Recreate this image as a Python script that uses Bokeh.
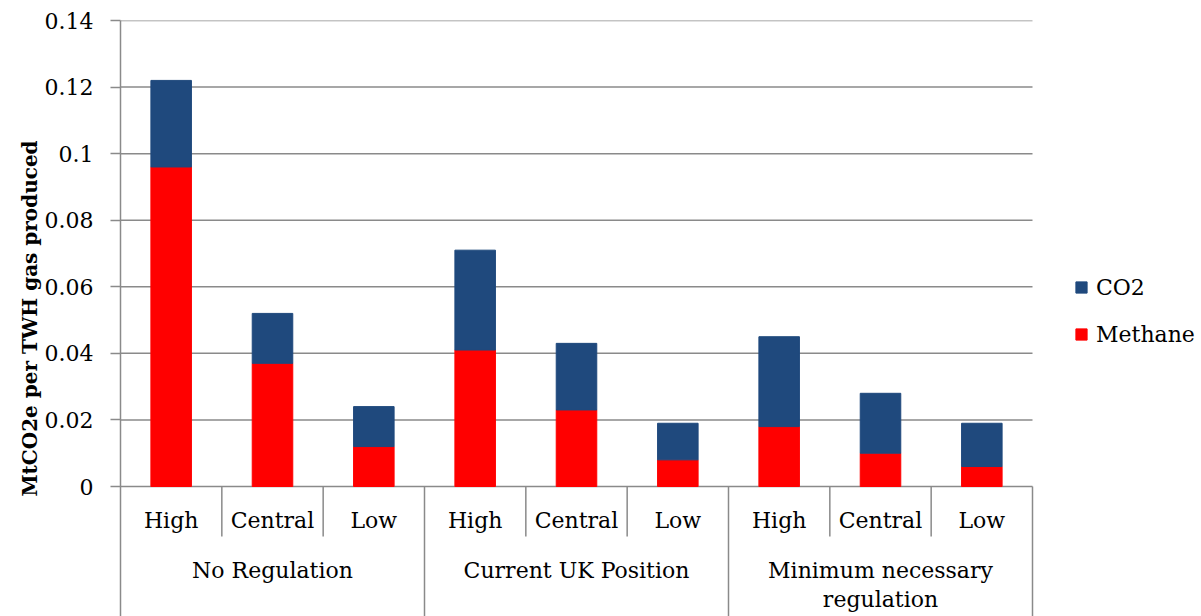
from bokeh.plotting import figure
from bokeh.models import (Range1d, FixedTicker, CustomJSTickFormatter,
                          Legend, LegendItem, ColumnDataSource)
from bokeh.core.properties import value
from bokeh.embed import file_html
from bokeh.resources import INLINE

# ---- data ----
groups = ["No Regulation", "Current UK Position", "Minimum necessary regulation"]
group_labels = ["No Regulation", "Current UK Position", "Minimum necessary\nregulation"]
levels = ["High", "Central", "Low"]
methane = [0.096, 0.037, 0.012, 0.041, 0.023, 0.008, 0.018, 0.010, 0.006]
co2 = [0.026, 0.015, 0.012, 0.030, 0.020, 0.011, 0.027, 0.018, 0.013]
y_ticks = [0, 0.02, 0.04, 0.06, 0.08, 0.1, 0.12, 0.14]

# ---- styling / layout ----
FONT = "DejaVu Serif"
GRAY = "#8a8a8a"
CO2_C = "#1F497D"
METH_C = "#FF0000"
W, H = 1200, 616
LEFT, TOP = 120, 20
PLOT_W = 912          # pixel width of the category area
PLOT_H = 466          # pixel height of 0..max region
FRAME_W = W - LEFT
FRAME_H = H - TOP

n_lv = len(levels)
factors = [(g, l) for g in groups for l in levels]
n = len(factors)
xc = [i + 0.5 for i in range(n)]                      # category centres (one unit each)
gx = [n_lv * j + n_lv / 2 for j in range(len(groups))]  # group centres

UX = PLOT_W / n
X_END = FRAME_W / UX
Y_MAX = y_ticks[-1]
PX = Y_MAX / PLOT_H
Y_MIN = -PX * (FRAME_H - PLOT_H)

p = figure(x_range=Range1d(0, X_END), y_range=Range1d(Y_MIN, Y_MAX),
           width=W, height=H, output_backend="svg", toolbar_location=None,
           x_axis_location=None, min_border_left=LEFT, min_border_right=0,
           min_border_top=TOP, min_border_bottom=0)
p.outline_line_color = None
p.background_fill_color = "white"
p.xgrid.visible = False
p.ygrid.visible = False

# horizontal gridlines across the category area only
p.segment(x0=[0] * len(y_ticks), x1=[n] * len(y_ticks), y0=y_ticks, y1=y_ticks,
          line_color=GRAY, line_width=1.5)

ax = p.yaxis[0]
ax.ticker = FixedTicker(ticks=y_ticks)
ax.formatter = CustomJSTickFormatter(code="return tick.toString();")
ax.axis_line_color = GRAY
ax.axis_line_width = 1.5
ax.major_tick_line_color = GRAY
ax.major_tick_line_width = 1.5
ax.major_tick_out = 10
ax.major_tick_in = 0
ax.minor_tick_line_color = None
ax.major_label_standoff = 17
ax.major_label_text_font = FONT
ax.major_label_text_font_size = "22px"
ax.major_label_text_color = "black"
ax.axis_label = "MtCO2e per TWH gas produced"
ax.axis_label_text_font = FONT
ax.axis_label_text_font_size = "20px"
ax.axis_label_text_font_style = "bold"
ax.axis_label_text_color = "black"
ax.axis_label_standoff = 0

src = ColumnDataSource(dict(x=xc, methane=methane, co2=co2))
rs = p.vbar_stack(["methane", "co2"], x="x", width=0.4, color=[METH_C, CO2_C], source=src)

# category separators
bx = list(range(1, n + 1))
by1 = [Y_MIN if i % n_lv == 0 else -50 * PX for i in bx]
p.segment(x0=bx, y0=[0] * n, x1=bx, y1=by1, line_color=GRAY, line_width=1.5)

# category labels
p.text(x=xc, y=[0] * n, text=[f[1] for f in factors], y_offset=34,
       text_align="center", text_baseline="middle", text_font=value(FONT),
       text_font_size="22px", text_color="black")
p.text(x=gx, y=[0] * len(groups), text=group_labels, y_offset=71,
       text_align="center", text_baseline="top", text_font=value(FONT),
       text_font_size="22px", text_color="black", text_line_height=1.17)

legend = Legend(items=[LegendItem(label="CO2", renderers=[rs[1]]),
                       LegendItem(label="Methane", renderers=[rs[0]])],
                location=(PLOT_W + 42, 269), border_line_color=None, background_fill_alpha=0,
                padding=0, margin=0, label_standoff=8, glyph_width=14, glyph_height=14,
                spacing=21, label_height=26, label_text_font=FONT,
                label_text_font_size="22px", label_text_color="black")
p.add_layout(legend)

open("out.html", "w").write(file_html(p, INLINE))
